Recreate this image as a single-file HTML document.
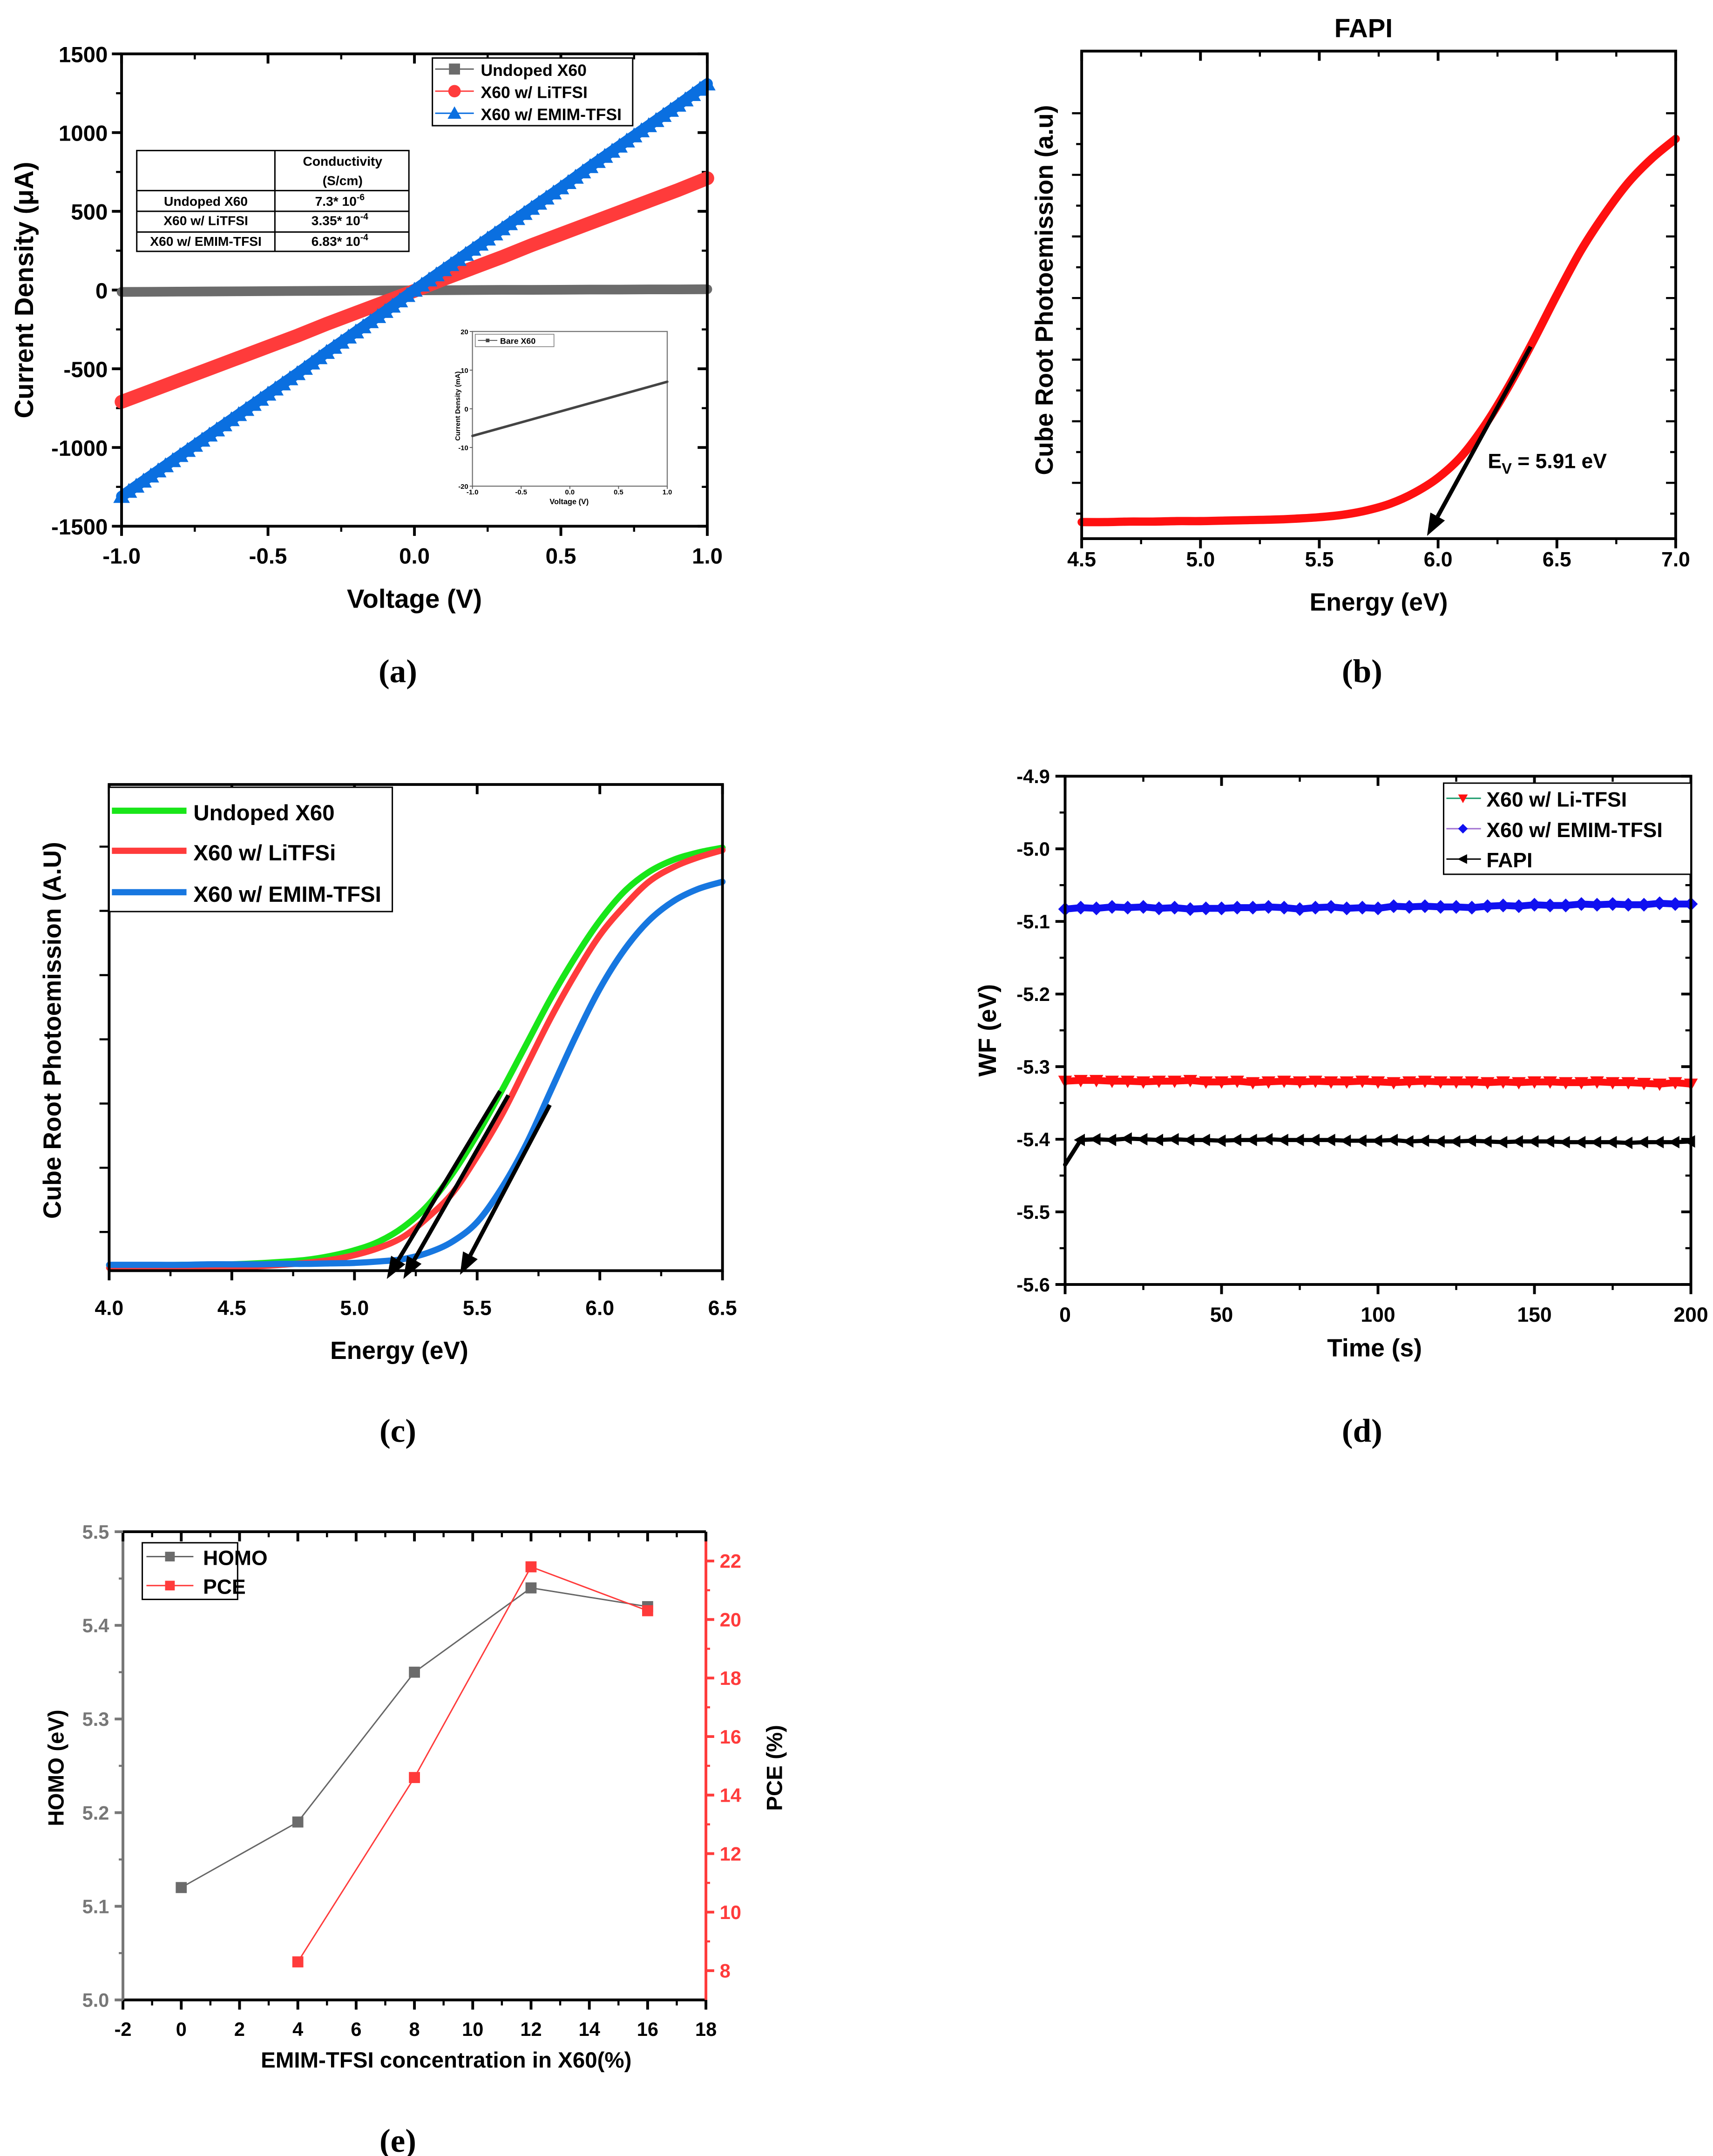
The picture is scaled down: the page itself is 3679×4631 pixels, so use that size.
<!DOCTYPE html>
<html><head><meta charset="utf-8"><title>Figure panels</title>
<style>
html,body{margin:0;padding:0;background:#fff;}
svg{display:block;}
text{font-weight:bold;}
</style></head>
<body>
<svg id="s" xmlns="http://www.w3.org/2000/svg" width="3679" height="4631" viewBox="0 0 1240 1561" preserveAspectRatio="none">
<rect x="0" y="0" width="1240" height="1561" fill="#fff"/>
</svg>
<script>
// ---- Panel (a) data ----
const aVolt = [-1,-0.9,-0.8,-0.7,-0.6,-0.5,-0.4,-0.3,-0.2,-0.1,0,0.1,0.2,0.3,0.4,0.5,0.6,0.7,0.8,0.9,1];
const aUndoped = [-12,-11,-10,-9,-8,-7,-6,-5,-4,-3,-2,-1,0,1,1,2,3,3,4,4,5];
const aLiTFSI = [-710,-640,-570,-500,-430,-360,-290,-215,-145,-75,-5,70,140,210,285,355,425,495,565,635,710];
const aEMIM = [-1310,-1180,-1050,-920,-790,-660,-530,-395,-265,-135,0,130,260,390,520,650,785,915,1045,1175,1310];
const aYTicks = [-1500,-1000,-500,0,500,1000,1500];
const aXTicks = [-1.0,-0.5,0.0,0.5,1.0];
const insetV = [-1,1];
const insetJ = [-7,7];
// ---- Panel (b) data ----
const bEnergy = [4.5,4.6,4.7,4.8,4.9,5.0,5.1,5.2,5.3,5.4,5.5,5.6,5.7,5.8,5.9,6.0,6.1,6.2,6.3,6.4,6.5,6.6,6.7,6.8,6.9,7.0];
const bSignal = [0.034,0.034,0.035,0.035,0.036,0.036,0.037,0.038,0.039,0.041,0.044,0.049,0.058,0.072,0.094,0.125,0.17,0.235,0.315,0.405,0.50,0.59,0.665,0.73,0.78,0.82];
const bXTicks = [4.5,5.0,5.5,6.0,6.5,7.0];
// ---- Panel (c) data ----
const cEnergy = [4.0,4.1,4.2,4.3,4.4,4.5,4.6,4.7,4.8,4.9,5.0,5.1,5.2,5.3,5.4,5.5,5.6,5.7,5.8,5.9,6.0,6.1,6.2,6.3,6.4,6.5];
const cUndoped = [0.011,0.011,0.011,0.012,0.012,0.013,0.015,0.018,0.022,0.03,0.042,0.06,0.09,0.135,0.2,0.28,0.37,0.465,0.56,0.645,0.72,0.78,0.82,0.845,0.86,0.87];
const cLiTFSI = [0.006,0.006,0.006,0.007,0.007,0.008,0.009,0.012,0.016,0.022,0.032,0.047,0.07,0.11,0.16,0.235,0.32,0.42,0.52,0.61,0.69,0.75,0.80,0.83,0.85,0.865];
const cEMIM = [0.012,0.012,0.012,0.012,0.013,0.013,0.013,0.014,0.014,0.015,0.016,0.019,0.024,0.037,0.06,0.10,0.17,0.26,0.37,0.48,0.58,0.66,0.72,0.76,0.785,0.80];
const cXTicks = [4.0,4.5,5.0,5.5,6.0,6.5];
// ---- Panel (d) data ----
const dTime = [0,5,10,15,20,25,30,35,40,45,50,55,60,65,70,75,80,85,90,95,100,105,110,115,120,125,130,135,140,145,150,155,160,165,170,175,180,185,190,195,200];
const dEMIM = [-5.083,-5.081,-5.082,-5.080,-5.081,-5.080,-5.082,-5.081,-5.083,-5.082,-5.082,-5.081,-5.081,-5.080,-5.081,-5.083,-5.081,-5.080,-5.082,-5.081,-5.082,-5.079,-5.080,-5.079,-5.080,-5.080,-5.081,-5.079,-5.078,-5.079,-5.077,-5.078,-5.078,-5.076,-5.077,-5.076,-5.077,-5.077,-5.075,-5.076,-5.076];
const dLi = [-5.320,-5.319,-5.319,-5.320,-5.320,-5.321,-5.320,-5.320,-5.319,-5.321,-5.321,-5.320,-5.322,-5.321,-5.320,-5.321,-5.320,-5.321,-5.321,-5.320,-5.321,-5.322,-5.321,-5.320,-5.321,-5.321,-5.321,-5.322,-5.321,-5.322,-5.321,-5.321,-5.322,-5.322,-5.321,-5.322,-5.322,-5.323,-5.324,-5.322,-5.324];
const dFAPI = [-5.435,-5.401,-5.400,-5.401,-5.399,-5.400,-5.401,-5.400,-5.401,-5.401,-5.402,-5.401,-5.401,-5.400,-5.401,-5.401,-5.401,-5.401,-5.402,-5.402,-5.402,-5.401,-5.403,-5.402,-5.403,-5.403,-5.402,-5.403,-5.404,-5.403,-5.403,-5.403,-5.404,-5.404,-5.404,-5.404,-5.405,-5.404,-5.404,-5.404,-5.403];
const dYTicks = [-4.9,-5.0,-5.1,-5.2,-5.3,-5.4,-5.5,-5.6];
const dXTicks = [0,50,100,150,200];
// ---- Panel (e) data ----
const eConcH = [0,4,8,12,16];
const eHOMO = [5.12,5.19,5.35,5.44,5.42];
const eConcP = [4,8,12,16];
const ePCE = [8.3,14.6,21.8,20.3];
const eXTicks = [-2,0,2,4,6,8,10,12,14,16,18];
const eYLTicks = [5.0,5.1,5.2,5.3,5.4,5.5];
const eYRTicks = [8,10,12,14,16,18,20,22];

const NS = "http://www.w3.org/2000/svg";
const S = document.getElementById('s');
const SANS = '"Liberation Sans",Arial,sans-serif';
const SERIF = '"Liberation Serif","Times New Roman",serif';
function mk(tag, attrs, name, parent){
  const el = document.createElementNS(NS, tag);
  for (const k in attrs) el.setAttribute(k, attrs[k]);
  
  
  (parent || S).appendChild(el);
  return el;
}
function txt(x, y, s, size, name, o){
  o = o || {};
  const a = {x:x, y:y, 'font-size':size, 'text-anchor':o.anchor||'middle', fill:o.fill||'#000',
    style:'font-family:'+(o.family||SANS)+';font-weight:'+(o.weight||'bold')};
  if (o.rot) a.transform = 'rotate(-90 '+x+' '+y+')';
  const t = mk('text', a, name);
  t.textContent = s;
  return t;
}
function lin(d0,d1,p0,p1){ return v => p0 + (v-d0)/(d1-d0)*(p1-p0); }
function line(x1,y1,x2,y2,stroke,w,name){ return mk('line',{x1:x1,y1:y1,x2:x2,y2:y2,stroke:stroke,'stroke-width':w},name); }
function poly(xs, ys, fx, fy, stroke, w, name){
  const pts = xs.map((v,i)=>fx(v).toFixed(2)+','+fy(ys[i]).toFixed(2)).join(' ');
  return mk('polyline',{points:pts,fill:'none',stroke:stroke,'stroke-width':w,'stroke-linejoin':'round','stroke-linecap':'round'},name);
}
function smooth(xs, ys, fx, fy, stroke, w, name){
  const P = xs.map((v,i)=>[fx(v), fy(ys[i])]);
  let d = 'M'+P[0][0].toFixed(2)+','+P[0][1].toFixed(2);
  for (let i=0;i<P.length-1;i++){
    const p0=P[Math.max(i-1,0)], p1=P[i], p2=P[i+1], p3=P[Math.min(i+2,P.length-1)];
    const c1=[p1[0]+(p2[0]-p0[0])/6, p1[1]+(p2[1]-p0[1])/6];
    const c2=[p2[0]-(p3[0]-p1[0])/6, p2[1]-(p3[1]-p1[1])/6];
    d += ' C'+c1[0].toFixed(2)+','+c1[1].toFixed(2)+' '+c2[0].toFixed(2)+','+c2[1].toFixed(2)+' '+p2[0].toFixed(2)+','+p2[1].toFixed(2);
  }
  return mk('path',{d:d,fill:'none',stroke:stroke,'stroke-width':w,'stroke-linecap':'round'},name);
}
function frame(x0,y0,x1,y1,name){ return mk('rect',{x:x0,y:y0,width:x1-x0,height:y1-y0,fill:'none',stroke:'#000','stroke-width':2},name); }
function arrow(x1,y1,x2,y2,name){
  const g = mk('g',{},name);
  const dx=x2-x1, dy=y2-y1, L=Math.hypot(dx,dy), ux=dx/L, uy=dy/L;
  const bx=x2-ux*16, by=y2-uy*16;
  mk('line',{x1:x1,y1:y1,x2:bx,y2:by,stroke:'#000','stroke-width':3},name+'-shaft',g);
  mk('polygon',{points:x2+','+y2+' '+(bx-uy*6)+','+(by+ux*6)+' '+(bx+uy*6)+','+(by-ux*6),fill:'#000'},name+'-head',g);
  return g;
}
function tri(x,y,r,color,name,down){
  const s = down?-1:1;
  return mk('polygon',{points:x+','+(y-r*s)+' '+(x-r)+','+(y+r*0.8*s)+' '+(x+r)+','+(y+r*0.8*s),fill:color},name);
}
function diamond(x,y,r,color,name){ return mk('polygon',{points:x+','+(y-r)+' '+(x+r)+','+y+' '+x+','+(y+r)+' '+(x-r)+','+y,fill:color},name); }
function sq(x,y,r,color,name){ return mk('rect',{x:x-r,y:y-r,width:2*r,height:2*r,fill:color},name); }

// ================= Panel (a) =================
{
const xa = lin(-1,1,88,512), ya = lin(-1500,1500,381,39);
aYTicks.forEach(v=>{ line(81,ya(v),88,ya(v),'#000',2,'a-y-tick'); line(505,ya(v),512,ya(v),'#000',2,'a-y-tick-right'); txt(78,ya(v)+6,String(v),16,'a-y-tick-label',{anchor:'end'}); });
[-1250,-750,-250,250,750,1250].forEach(v=>{ line(84,ya(v),88,ya(v),'#000',1.5,'a-y-minor-tick'); line(508,ya(v),512,ya(v),'#000',1.5,'a-y-minor-tick-right'); });
aXTicks.forEach(v=>{ line(xa(v),381,xa(v),388,'#000',2,'a-x-tick'); line(xa(v),39,xa(v),46,'#000',2,'a-x-tick-top'); txt(xa(v),408,v.toFixed(1),16,'a-x-tick-label'); });
[-0.75,-0.25,0.25,0.75].forEach(v=>{ line(xa(v),381,xa(v),385,'#000',1.5,'a-x-minor-tick'); line(xa(v),39,xa(v),43,'#000',1.5,'a-x-minor-tick-top'); });
poly(aVolt,aUndoped,xa,ya,'#6b6b6b',7,'a-undoped-line');
poly(aVolt,aLiTFSI,xa,ya,'#ff3b3b',10,'a-litfsi-line');
poly(aVolt,aEMIM,xa,ya,'#0a6fe0',8,'a-emim-line');
for (let i=0;i<aVolt.length-1;i++){
  for (let k=0;k<4;k++){
    const f=k/4, v=aVolt[i]+(aVolt[i+1]-aVolt[i])*f, j=aEMIM[i]+(aEMIM[i+1]-aEMIM[i])*f;
    tri(xa(v),ya(j),6,'#0a6fe0','a-emim-marker');
  }
}
tri(xa(aVolt[aVolt.length-1]),ya(aEMIM[aEMIM.length-1]),6,'#0a6fe0','a-emim-marker');
frame(88,39,512,381,'a-plot-frame');
txt(300,440,'Voltage (V)',19,'a-x-axis-title');
txt(24,210,'Current Density (μA)',19,'a-y-axis-title',{rot:true});
mk('rect',{x:313,y:42,width:145,height:49,fill:'#fff',stroke:'#000','stroke-width':1},'a-legend-box');
line(315,50,343,50,'#6b6b6b',1,'a-legend-undoped-line'); sq(329,50,4,'#6b6b6b','a-legend-undoped-marker'); txt(348,55,'Undoped X60',12,'a-legend-undoped-label',{anchor:'start'});
line(315,66,343,66,'#ff3b3b',1,'a-legend-litfsi-line'); mk('circle',{cx:329,cy:66,r:4.5,fill:'#ff3b3b'},'a-legend-litfsi-marker'); txt(348,71,'X60 w/ LiTFSI',12,'a-legend-litfsi-label',{anchor:'start'});
line(315,82,343,82,'#0a6fe0',1,'a-legend-emim-line'); tri(329,82,5,'#0a6fe0','a-legend-emim-marker'); txt(348,87,'X60 w/ EMIM-TFSI',12,'a-legend-emim-label',{anchor:'start'});
const tg = mk('g',{},'a-conductivity-table');
mk('rect',{x:99,y:109,width:197,height:73,fill:'#fff',stroke:'#000','stroke-width':1},'a-table-border',tg);
line(199,109,199,182,'#000',1,'a-table-column-divider');
[138,153,168].forEach(y=>line(99,y,296,y,'#000',1,'a-table-row-divider'));
txt(248,120,'Conductivity',9.5,'a-table-header');
txt(248,134,'(S/cm)',9.5,'a-table-header-unit');
[['Undoped X60','7.3* 10','-6',149],['X60 w/ LiTFSI','3.35* 10','-4',163],['X60 w/ EMIM-TFSI','6.83* 10','-4',178]].forEach(r=>{
  txt(149,r[3],r[0],9.5,'a-table-row-label');
  const t = txt(246,r[3],r[1],9.5,'a-table-row-value');
  const sp = document.createElementNS(NS,'tspan'); sp.setAttribute('dy','-4'); sp.setAttribute('font-size','6.5'); sp.textContent=r[2]; t.appendChild(sp);
});
const xi = lin(-1,1,342,483), yi = lin(-20,20,352,240);
mk('rect',{x:342,y:240,width:141,height:112,fill:'#fff',stroke:'#777','stroke-width':0.8},'a-inset-frame');
[-20,-10,0,10,20].forEach(v=>{ line(340,yi(v),342,yi(v),'#555',0.6,'a-inset-y-tick'); txt(339,yi(v)+2,String(v),5,'a-inset-y-label',{anchor:'end'}); });
[-1,-0.5,0,0.5,1].forEach(v=>{ line(xi(v),352,xi(v),354,'#555',0.6,'a-inset-x-tick'); txt(xi(v),358,v.toFixed(1),5,'a-inset-x-label'); });
poly(insetV,insetJ,xi,yi,'#444',1.8,'a-inset-bare-line');
mk('rect',{x:344,y:242,width:57,height:9,fill:'#fff',stroke:'#777','stroke-width':0.5},'a-inset-legend-box');
line(346,246.5,360,246.5,'#444',0.6,'a-inset-legend-line'); sq(353,246.5,1.3,'#444','a-inset-legend-marker');
txt(362,249,'Bare X60',6,'a-inset-legend-label',{anchor:'start'});
txt(412,365,'Voltage (V)',5.5,'a-inset-x-title');
txt(333,294,'Current Density (mA)',5,'a-inset-y-title',{rot:true});
txt(288,494,'(a)',24,'panel-label-a',{family:SERIF});
}

// ================= Panel (b) =================
{
const xb = lin(4.5,7,783,1213), yb = lin(0,1,390,37);
txt(987,27,'FAPI',19,'b-chart-title');
bXTicks.forEach(v=>{ line(xb(v),390,xb(v),397,'#000',2,'b-x-tick'); line(xb(v),37,xb(v),44,'#000',2,'b-x-tick-top'); txt(xb(v),410,v.toFixed(1),15,'b-x-tick-label'); });
[4.75,5.25,5.75,6.25,6.75].forEach(v=>{ line(xb(v),390,xb(v),394,'#000',1.5,'b-x-minor-tick'); line(xb(v),37,xb(v),41,'#000',1.5,'b-x-minor-tick-top'); });
for(let k=0;k<14;k++){ const y=82+k*22.3; const L=k%2===0?7:4; line(783-L,y,783,y,'#000',1.5,'b-y-tick'); line(1213-L,y,1213,y,'#000',1.5,'b-y-tick-right'); }
smooth(bEnergy,bSignal,xb,yb,'#ff1010',6,'b-fapi-curve');
frame(783,37,1213,390,'b-plot-frame');
arrow(1108,251,1033,388,'b-tangent-arrow');
const ev = txt(1077,339,'E',15,'b-ev-annotation',{anchor:'start'});
const sub = document.createElementNS(NS,'tspan'); sub.setAttribute('dy','4'); sub.setAttribute('font-size','11'); sub.textContent='V'; ev.appendChild(sub);
const rest = document.createElementNS(NS,'tspan'); rest.setAttribute('dy','-4'); rest.textContent=' = 5.91 eV'; ev.appendChild(rest);
txt(998,442,'Energy (eV)',18,'b-x-axis-title');
txt(762,210,'Cube Root Photoemission (a.u)',18,'b-y-axis-title',{rot:true});
txt(986,494,'(b)',24,'panel-label-b',{family:SERIF});
}

// ================= Panel (c) =================
{
const xc = lin(4,6.5,79,523), yc = lin(0,1,920,568);
cXTicks.forEach(v=>{ line(xc(v),920,xc(v),927,'#000',2,'c-x-tick'); line(xc(v),568,xc(v),575,'#000',2,'c-x-tick-top'); txt(xc(v),952,v.toFixed(1),15,'c-x-tick-label'); });
[4.25,4.75,5.25,5.75,6.25].forEach(v=>{ line(xc(v),920,xc(v),924,'#000',1.5,'c-x-minor-tick'); });
for(let k=0;k<7;k++){ const y=613+k*46.5; line(72,y,79,y,'#000',1.5,'c-y-tick'); }
smooth(cEnergy,cUndoped,xc,yc,'#19e619',4.5,'c-undoped-curve');
smooth(cEnergy,cLiTFSI,xc,yc,'#ff3b3b',4.5,'c-litfsi-curve');
smooth(cEnergy,cEMIM,xc,yc,'#1777e0',4.5,'c-emim-curve');
frame(79,568,523,920,'c-plot-frame');
arrow(362,790,280,926,'c-undoped-arrow');
arrow(368,793,292,926,'c-litfsi-arrow');
arrow(398,800,333,923,'c-emim-arrow');
mk('rect',{x:79,y:570,width:205,height:90,fill:'#fff',stroke:'#000','stroke-width':1},'c-legend-box');
line(81,587,135,587,'#19e619',4.5,'c-legend-undoped-line'); txt(140,594,'Undoped X60',16,'c-legend-undoped-label',{anchor:'start'});
line(81,616,135,616,'#ff3b3b',4.5,'c-legend-litfsi-line'); txt(140,623,'X60 w/ LiTFSi',16,'c-legend-litfsi-label',{anchor:'start'});
line(81,646,135,646,'#1777e0',4.5,'c-legend-emim-line'); txt(140,653,'X60 w/ EMIM-TFSI',16,'c-legend-emim-label',{anchor:'start'});
txt(289,984,'Energy (eV)',18,'c-x-axis-title');
txt(44,746,'Cube Root Photoemission (A.U)',18,'c-y-axis-title',{rot:true});
txt(288,1044,'(c)',24,'panel-label-c',{family:SERIF});
}

// ================= Panel (d) =================
{
const xd = lin(0,200,771,1224), yd = lin(-5.6,-4.9,930,562);
dYTicks.forEach(v=>{ line(764,yd(v),771,yd(v),'#000',2,'d-y-tick'); line(1217,yd(v),1224,yd(v),'#000',2,'d-y-tick-right'); txt(760,yd(v)+5,v.toFixed(1),14,'d-y-tick-label',{anchor:'end'}); });
[-4.95,-5.05,-5.15,-5.25,-5.35,-5.45,-5.55].forEach(v=>{ line(767,yd(v),771,yd(v),'#000',1.5,'d-y-minor-tick'); line(1220,yd(v),1224,yd(v),'#000',1.5,'d-y-minor-tick-right'); });
dXTicks.forEach(v=>{ line(xd(v),930,xd(v),937,'#000',2,'d-x-tick'); line(xd(v),562,xd(v),569,'#000',2,'d-x-tick-top'); txt(xd(v),957,String(v),15,'d-x-tick-label'); });
[25,75,125,175].forEach(v=>{ line(xd(v),930,xd(v),934,'#000',1.5,'d-x-minor-tick'); line(xd(v),562,xd(v),566,'#000',1.5,'d-x-minor-tick-top'); });
poly(dTime,dEMIM,xd,yd,'#1010f0',5,'d-emim-line');
dTime.forEach((v,i)=>diamond(xd(v),yd(dEMIM[i]),5,'#1010f0','d-emim-marker'));
poly(dTime,dLi,xd,yd,'#ff1010',5,'d-litfsi-line');
dTime.forEach((v,i)=>tri(xd(v),yd(dLi[i]),5,'#ff1010','d-litfsi-marker',true));
poly(dTime,dFAPI,xd,yd,'#000',3,'d-fapi-line');
dTime.forEach((v,i)=>{ if(i>0) mk('polygon',{points:(xd(v)-5)+','+yd(dFAPI[i])+' '+(xd(v)+3)+','+(yd(dFAPI[i])-4.5)+' '+(xd(v)+3)+','+(yd(dFAPI[i])+4.5),fill:'#000'},'d-fapi-marker'); });
frame(771,562,1224,930,'d-plot-frame');
mk('rect',{x:1045,y:567,width:179,height:66,fill:'#fff',stroke:'#000','stroke-width':1},'d-legend-box');
line(1047,578,1072,578,'#1a9a6a',1,'d-legend-litfsi-line'); tri(1059,578,3.5,'#ff1010','d-legend-litfsi-marker',true); txt(1076,584,'X60 w/ Li-TFSI',15,'d-legend-litfsi-label',{anchor:'start'});
line(1047,600,1072,600,'#a070d0',1,'d-legend-emim-line'); diamond(1059,600,3.5,'#1010f0','d-legend-emim-marker'); txt(1076,606,'X60 w/ EMIM-TFSI',15,'d-legend-emim-label',{anchor:'start'});
line(1047,622,1072,622,'#000',1,'d-legend-fapi-line'); mk('polygon',{points:'1055,622 1062,618.5 1062,625.5',fill:'#000'},'d-legend-fapi-marker'); txt(1076,628,'FAPI',15,'d-legend-fapi-label',{anchor:'start'});
txt(995,982,'Time (s)',18,'d-x-axis-title');
txt(721,746,'WF (eV)',18,'d-y-axis-title',{rot:true});
txt(986,1044,'(d)',24,'panel-label-d',{family:SERIF});
}

// ================= Panel (e) =================
{
const xe = lin(-2,18,89,511), yl = lin(5,5.5,1448,1109), yr = lin(7,23,1448,1109);
line(89,1448,511,1448,'#000',2,'e-x-axis-line');
line(89,1109,89,1448,'#777',2,'e-left-axis-line');
line(511,1109,511,1448,'#ff3b3b',2,'e-right-axis-line');
line(89,1109,511,1109,'#000',2,'e-top-axis-line');
eXTicks.forEach(v=>{ line(xe(v),1448,xe(v),1455,'#000',2,'e-x-tick'); line(xe(v),1109,xe(v),1116,'#000',2,'e-x-tick-top'); txt(xe(v),1474,String(v),14,'e-x-tick-label'); });
eXTicks.slice(0,-1).forEach(v=>{ line(xe(v+1),1448,xe(v+1),1452,'#000',1.5,'e-x-minor-tick'); line(xe(v+1),1109,xe(v+1),1113,'#000',1.5,'e-x-minor-tick-top'); });
eYLTicks.forEach(v=>{ line(83,yl(v),89,yl(v),'#777',2,'e-left-y-tick'); txt(79,yl(v)+5,v.toFixed(1),14,'e-left-y-tick-label',{anchor:'end',fill:'#777'}); });
[5.05,5.15,5.25,5.35,5.45].forEach(v=>line(86,yl(v),89,yl(v),'#777',1.5,'e-left-y-minor-tick'));
eYRTicks.forEach(v=>{ line(511,yr(v),517,yr(v),'#ff3b3b',2,'e-right-y-tick'); txt(521,yr(v)+5,String(v),14,'e-right-y-tick-label',{anchor:'start',fill:'#ff3b3b'}); });
[9,11,13,15,17,19,21].forEach(v=>line(511,yr(v),514,yr(v),'#ff3b3b',1.5,'e-right-y-minor-tick'));
poly(eConcH,eHOMO,xe,yl,'#666',1,'e-homo-line');
eConcH.forEach((v,i)=>sq(xe(v),yl(eHOMO[i]),4,'#6b6b6b','e-homo-marker'));
poly(eConcP,ePCE,xe,yr,'#ff3b3b',1,'e-pce-line');
eConcP.forEach((v,i)=>sq(xe(v),yr(ePCE[i]),4,'#ff3b3b','e-pce-marker'));
mk('rect',{x:103,y:1117,width:69,height:41,fill:'#fff',stroke:'#000','stroke-width':1},'e-legend-box');
line(106,1127,140,1127,'#666',1,'e-legend-homo-line'); sq(123,1127,3.5,'#6b6b6b','e-legend-homo-marker'); txt(147,1133,'HOMO',15,'e-legend-homo-label',{anchor:'start'});
line(106,1148,140,1148,'#ff3b3b',1,'e-legend-pce-line'); sq(123,1148,3.5,'#ff3b3b','e-legend-pce-marker'); txt(147,1154,'PCE',15,'e-legend-pce-label',{anchor:'start'});
txt(323,1497,'EMIM-TFSI concentration in X60(%)',16,'e-x-axis-title');
txt(46,1280,'HOMO (eV)',16,'e-left-y-axis-title',{rot:true});
txt(566,1280,'PCE (%)',16,'e-right-y-axis-title',{rot:true});
txt(288,1558,'(e)',24,'panel-label-e',{family:SERIF});
}
</script>
</body></html>
